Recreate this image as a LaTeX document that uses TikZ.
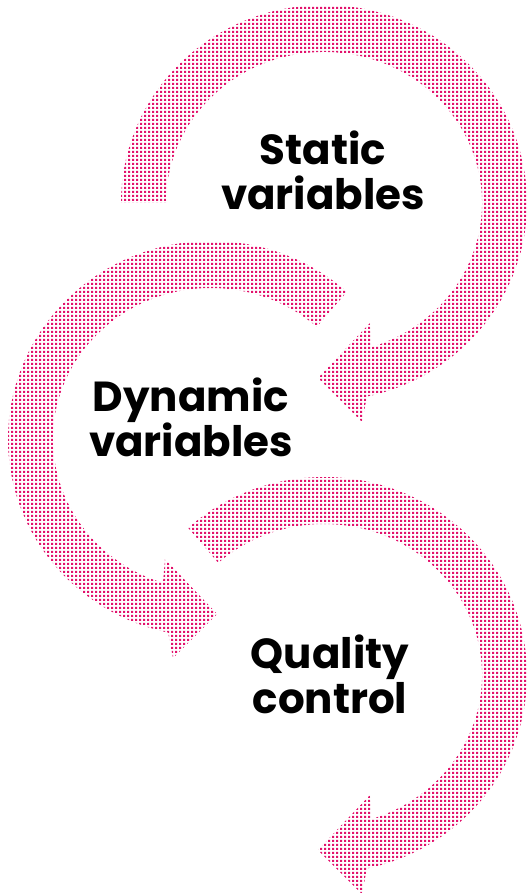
\documentclass[tikz,border=0pt]{standalone}
\usepackage{fontspec}
\setmainfont{Poppins}
\usetikzlibrary{patterns.meta}

\definecolor{dotpink}{RGB}{226,18,108}

% square dots on a 4pt grid
\tikzdeclarepattern{
  name=dotgrid,
  type=uncolored,
  bottom left={(0pt,0pt)},
  top right={(4pt,4pt)},
  tile size={(4pt,4pt)},
  code={\fill (0pt,0pt) rectangle (2.5pt,2.5pt);}
}

\begin{document}
\begin{tikzpicture}[x=1pt, y=1pt,
    band/.style={pattern={dotgrid}, pattern color=dotpink},
    titletext/.style={font=\bfseries\fontsize{42}{45}\selectfont, align=center, inner sep=0pt}]
        % Canvas
        \useasboundingbox (0,0) rectangle (529,-893);

        % Curved arrows: centre x / centre y / mirror / tail angle
        \foreach \cx/\cy/\flip/\tail in {324/203/1/180, 211/439/-1/132, 324/675/1/132} {
            \begin{scope}[shift={(\cx,-\cy)}, xscale=\flip]
                \fill[band] (\tail:203 and 198)
                    arc[start angle=\tail, end angle=-77.8, x radius=203, y radius=198]
                    -- (38,-219) -- (-6,-175) -- (46,-120) -- (-72.3:158 and 151)
                    arc[start angle=-72.3, end angle=\tail, x radius=158, y radius=151]
                    -- cycle;
            \end{scope}
        }

        % Labels
        \node[titletext] (static) at (323,-170) {Static\\variables};
        \node[titletext] (dynamic) at (191,-417) {Dynamic\\variables};
        \node[titletext] (quality) at (330,-674) {Quality\\control};
\end{tikzpicture}
\end{document}
